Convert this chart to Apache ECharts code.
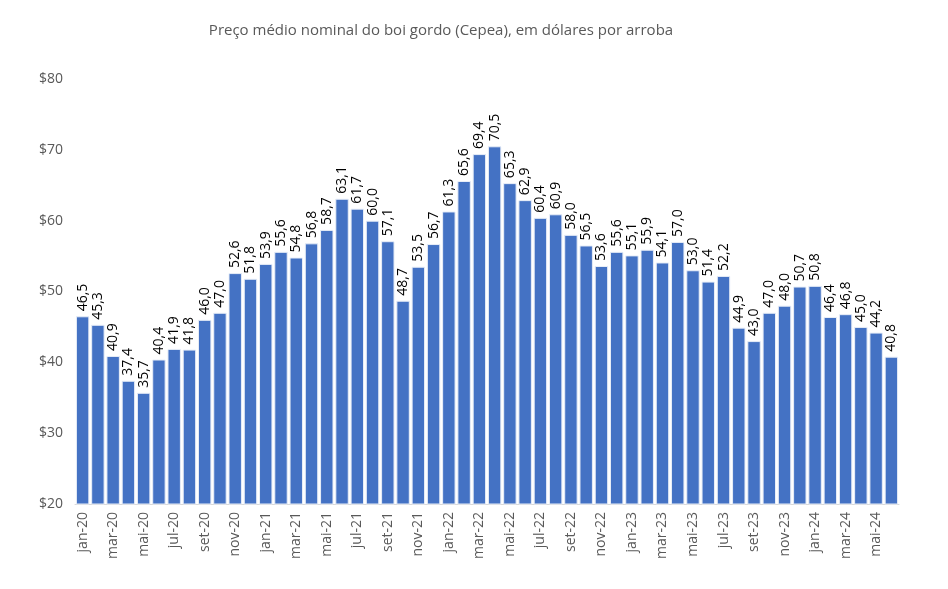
<!DOCTYPE html>
<html><head><meta charset="utf-8">
<script src="https://cdn.jsdelivr.net/npm/echarts@6/dist/echarts.min.js"></script>
<style>html,body{margin:0;padding:0;background:#fff}#c{width:948px;height:589px}</style>
</head><body><div id="c"></div>
<script>
const months = ['jan','fev','mar','abr','mai','jun','jul','ago','set','out','nov','dez'];
const years = ['20','21','22','23','24'];
const categories = [];
years.forEach(y => months.forEach(m => categories.push(m + '-' + y)));
categories.length = 54;
const values = [46.5,45.3,40.9,37.4,35.7,40.4,41.9,41.8,46.0,47.0,52.6,51.8,
  53.9,55.6,54.8,56.8,58.7,63.1,61.7,60.0,57.1,48.7,53.5,56.7,
  61.3,65.6,69.4,70.5,65.3,62.9,60.4,60.9,58.0,56.5,53.6,55.6,
  55.1,55.9,54.1,57.0,53.0,51.4,52.2,44.9,43.0,47.0,48.0,50.7,
  50.8,46.4,46.8,45.0,44.2,40.8];
const yTicks = [20,30,40,50,60,70,80];
const title = 'Preço médio nominal do boi gordo (Cepea), em dólares por arroba';
const font = '"Open Sans", "Noto Sans", sans-serif';

const chart = echarts.init(document.getElementById('c'));
chart.setOption({
  animation: false,
  title: { text: title, left: 436, textAlign: 'center', top: 18,
    textStyle: { fontFamily: font, fontSize: 15, fontWeight: 'normal', color: '#595959' } },
  grid: { left: 75, right: 49, top: 79, bottom: 85 },
  xAxis: { type: 'category', data: categories,
    axisLine: { lineStyle: { color: '#d9d9d9' } },
    axisTick: { interval: 1, length: 6, lineStyle: { color: '#d9d9d9' } },
    axisLabel: { interval: 1, rotate: 90, color: '#595959', fontFamily: font, fontSize: 14, margin: 8 } },
  yAxis: { type: 'value', min: yTicks[0], max: yTicks[yTicks.length-1], interval: 10,
    splitLine: { show: false }, axisLine: { show: false }, axisTick: { show: false },
    axisLabel: { color: '#595959', fontFamily: font, fontSize: 14, margin: 12, formatter: v => '$' + v } },
  series: [{ type: 'bar', data: values, barCategoryGap: '12%',
    itemStyle: { color: '#4472C4', borderColor: '#e8eef8', borderWidth: 1 },
    label: { show: true, position: 'top', rotate: 90, align: 'left', verticalAlign: 'middle', distance: 5,
      color: '#000', fontFamily: font, fontSize: 14,
      formatter: p => p.value.toFixed(1).replace('.', ',') } }]
});
</script></body></html>
